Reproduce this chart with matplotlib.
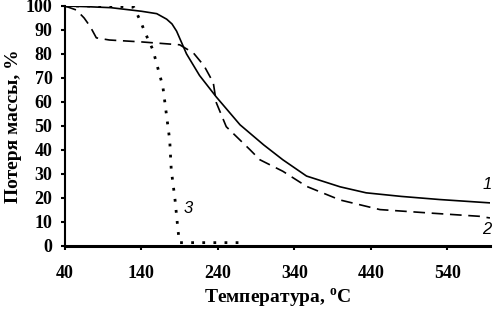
"""
Кривые ТГА: потеря массы образцов 1-3 при нагреве.
"""
import matplotlib.pyplot as plt

plt.rcParams['font.family'] = ['Liberation Serif', 'DejaVu Serif']
plt.rcParams['mathtext.fontset'] = 'custom'
plt.rcParams['mathtext.rm'] = 'Liberation Serif:bold'

# Data
t1 = [40, 70, 100, 140, 160, 173, 180, 186, 199, 216, 238, 269, 300, 325, 356, 400, 434, 480, 530, 596]
m1 = [100, 99.7, 99.3, 97.8, 96.8, 94.5, 92.5, 89.5, 80, 71, 62, 50.4, 42, 35.8, 29, 24.5, 22, 20.5, 19.2, 17.8]

t2 = [40, 55, 65, 73, 81, 98, 140, 190, 208, 222, 234, 238, 251, 282, 295, 325, 356, 400, 452, 520, 582, 596]
m2 = [100, 98.3, 95, 91.4, 86.7, 85.8, 85, 83.8, 80.4, 75, 68, 59.6, 49.6, 40, 35.8, 31, 24.7, 19, 15, 13.5, 12.2, 11.5]

t3 = [40, 100, 130, 138, 146, 155, 168, 177, 179, 184, 188, 190, 230, 276]
m3 = [100, 100, 99.5, 94.2, 88, 81.7, 66.4, 44, 31.7, 19, 5.9, 1.2, 1.2, 1.2]

fig = plt.figure(figsize=(4.97, 3.12), dpi=100)
ax = fig.add_axes([0.1308, 0.2131, 0.855, 0.7677])

ax.plot(t1, m1, color='black', linewidth=1.2, linestyle='-')
ax.plot(t2, m2, color='black', linewidth=1.2, linestyle=(0, (7, 4)))
ax.plot(t3, m3, color='black', linewidth=2.0, linestyle=(0, (1, 3)))

ax.text(593, 25.4, '1', fontsize=12, fontstyle='italic', family=['Liberation Sans'], ha='center', va='center')
ax.text(592, 6.7, '2', fontsize=12, fontstyle='italic', family=['Liberation Sans'], ha='center', va='center')
ax.text(201, 15.4, '3', fontsize=12, fontstyle='italic', family=['Liberation Sans'], ha='center', va='center')

ax.set_xlim(40, 596)
ax.set_ylim(0, 100)
ax.set_xticks(range(40, 541, 100))
ax.set_yticks(range(0, 101, 10))

ax.spines['top'].set_visible(False)
ax.spines['right'].set_visible(False)
ax.spines['bottom'].set_linewidth(2.2)
ax.spines['left'].set_linewidth(1.5)
ax.tick_params(axis='x', direction='out', length=3, width=1.5, pad=11, labelsize=13)
ax.tick_params(axis='y', direction='out', length=3, width=1.5, pad=6, labelsize=13)
for lbl in ax.get_xticklabels() + ax.get_yticklabels():
    lbl.set_fontweight('bold')

ax.set_xlabel(r'Температура, $^{\rm o}$C', fontsize=14, fontweight='bold', labelpad=3)
ax.set_ylabel('Потеря массы, %', fontsize=14, fontweight='bold', labelpad=3)

fig.savefig('out.png', dpi=100)
